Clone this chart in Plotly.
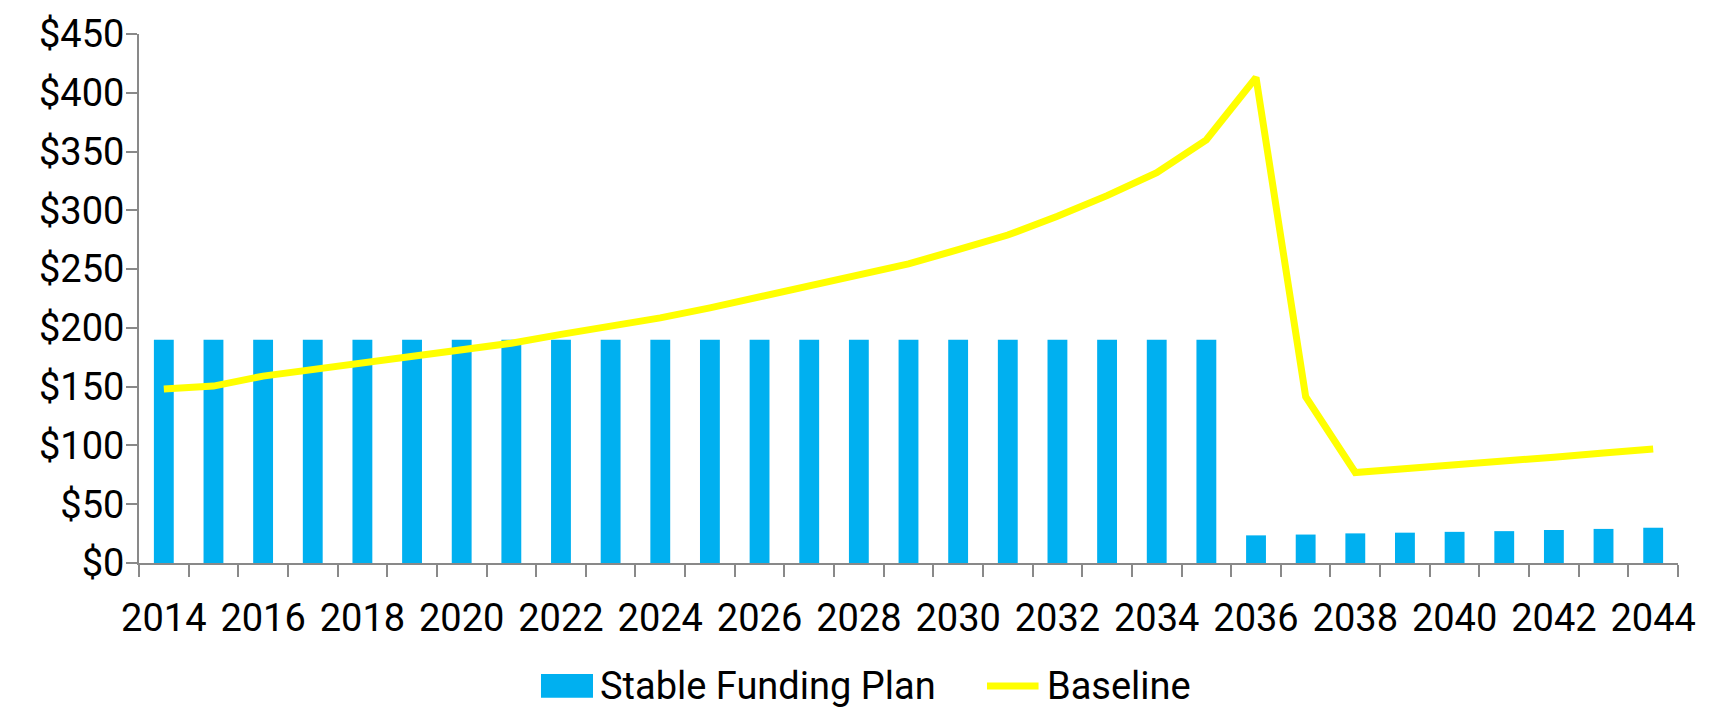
import plotly.graph_objects as go

# Annual figures, 2014-2044
years = list(range(2014, 2045))

stable_funding_plan = [
    190, 190, 190, 190, 190, 190, 190, 190, 190, 190, 190,
    190, 190, 190, 190, 190, 190, 190, 190, 190, 190, 190,
    23.5, 24.2, 25.2, 25.8, 26.5, 27.1, 28.1, 29.0, 30.0,
]

baseline = [
    148, 150.5, 159, 164.5, 170, 175, 180.5, 187, 194.5, 201.5, 208.5,
    217, 226, 235, 244.5, 254.5, 266.5, 279, 295, 312.5, 332, 360,
    413, 141.5, 77, 80, 83, 86.5, 90, 93.5, 97,
]

x_tick_years = list(range(2014, 2045, 2))
y_ticks = list(range(0, 451, 50))
y_tick_text = ["$" + str(v) for v in y_ticks]

BAR_COLOR = "#00B0F0"
LINE_COLOR = "#FFFF00"
AXIS_COLOR = "#898989"
FONT = "Roboto, Liberation Sans, sans-serif"
FONT_SIZE = 38

fig = go.Figure()

fig.add_trace(go.Bar(
    x=years, y=stable_funding_plan, name="Stable Funding Plan",
    marker=dict(color=BAR_COLOR, line=dict(width=0)),
    showlegend=False,
))

fig.add_trace(go.Scatter(
    x=years, y=baseline, name="Baseline", mode="lines",
    line=dict(color=LINE_COLOR, width=7),
    showlegend=False,
))

# Legend drawn below the axis: swatches plus labels
legend_y = -0.2324
fig.add_shape(type="rect", xref="paper", yref="paper",
              x0=0.2612, x1=0.2950, y0=legend_y - 0.0225, y1=legend_y + 0.0225,
              fillcolor=BAR_COLOR, line=dict(width=0))
fig.add_shape(type="line", xref="paper", yref="paper",
              x0=0.5510, x1=0.5845, y0=legend_y, y1=legend_y,
              line=dict(color=LINE_COLOR, width=7))
fig.add_annotation(xref="paper", yref="paper", x=0.2985, y=legend_y,
                   xanchor="left", yanchor="middle", showarrow=False,
                   text="Stable Funding Plan",
                   font=dict(family=FONT, size=FONT_SIZE, color="#000000"))
fig.add_annotation(xref="paper", yref="paper", x=0.5885, y=legend_y,
                   xanchor="left", yanchor="middle", showarrow=False,
                   text="Baseline",
                   font=dict(family=FONT, size=FONT_SIZE, color="#000000"))

fig.update_layout(
    width=1714, height=712,
    margin=dict(l=139, r=36, t=29.5, b=149),
    paper_bgcolor="#FFFFFF", plot_bgcolor="#FFFFFF",
    bargap=0.6,
    font=dict(family=FONT, size=FONT_SIZE, color="#000000"),
)

fig.update_xaxes(
    range=[2013.5, 2044.5],
    tickmode="array", tickvals=x_tick_years,
    ticktext=[str(y) for y in x_tick_years],
    ticks="", ticklabelstandoff=20,
    showgrid=False, zeroline=False,
    showline=True, linecolor=AXIS_COLOR, linewidth=2,
    minor=dict(tickmode="array",
               tickvals=[y - 0.5 for y in years] + [years[-1] + 0.5],
               ticks="outside", ticklen=12, tickwidth=2,
               tickcolor=AXIS_COLOR, showgrid=False),
    tickfont=dict(family=FONT, size=FONT_SIZE, color="#000000"),
)

fig.update_yaxes(
    range=[0, 450],
    tickmode="array", tickvals=y_ticks, ticktext=y_tick_text,
    ticks="outside", ticklen=11, tickwidth=2, tickcolor=AXIS_COLOR,
    ticklabelstandoff=-6,
    showgrid=False, zeroline=False,
    showline=True, linecolor=AXIS_COLOR, linewidth=2,
    tickfont=dict(family=FONT, size=FONT_SIZE, color="#000000"),
)

fig.write_html("out.html")
